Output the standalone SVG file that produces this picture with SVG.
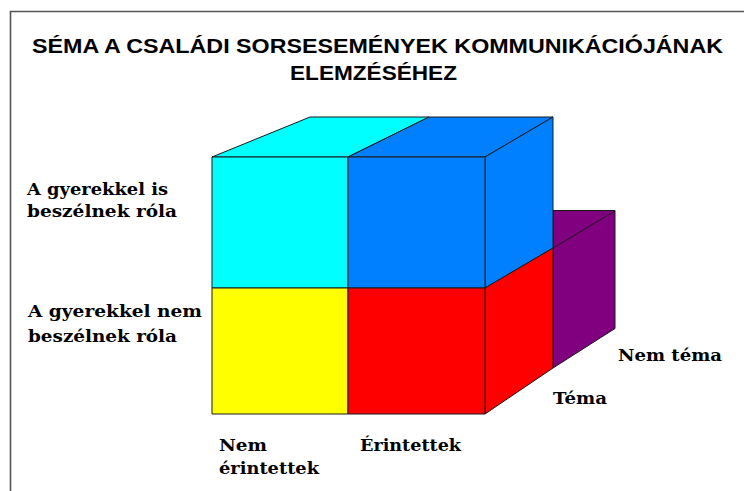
<svg xmlns="http://www.w3.org/2000/svg" width="744" height="491" viewBox="0 0 744 491">
<style>
.f{stroke:#1a1a1a;stroke-width:1;stroke-linejoin:round}
.t{font-family:"Liberation Sans",Arial,sans-serif;font-weight:bold;font-size:21px;fill:#000}
.l{font-family:"DejaVu Serif","Liberation Serif",serif;font-weight:bold;font-size:17px;fill:#000}
</style>
<rect width="744" height="491" fill="#fff"/>
<g id="frame" fill="none" stroke="#555" stroke-width="1.6">
<path d="M10.5,491 V11.5 H744"/>
</g>
<g id="title">
<text class="t" x="32" y="52.5" textLength="691" lengthAdjust="spacingAndGlyphs">SÉMA A CSALÁDI SORSESEMÉNYEK KOMMUNIKÁCIÓJÁNAK</text>
<text class="t" x="290" y="80" textLength="167" lengthAdjust="spacingAndGlyphs">ELEMZÉSÉHEZ</text>
</g>
<g id="purple-block">
<polygon class="f" fill="#800080" points="553,210.5 615,210.5 615,328.5 553,368"/>
<line class="f" x1="553" y1="248" x2="615" y2="211"/>
</g>
<g id="cyan-block">
<polygon class="f" fill="#00ffff" points="212,157 310,117 429,117 348,157"/>
<rect class="f" fill="#00ffff" x="212" y="157" width="136" height="131"/>
</g>
<g id="blue-block">
<polygon class="f" fill="#0080ff" points="348,157 429,117 553,117 485,157"/>
<polygon class="f" fill="#0080ff" points="485,157 553,117 553,248 485,288"/>
<rect class="f" fill="#0080ff" x="348" y="157" width="137" height="131"/>
</g>
<g id="yellow-block">
<rect class="f" fill="#ffff00" x="212" y="288" width="136" height="126"/>
</g>
<g id="red-block">
<polygon class="f" fill="#ff0000" points="485,288 553,248 553,368 485,414"/>
<rect class="f" fill="#ff0000" x="348" y="288" width="137" height="126"/>
</g>
<g id="connectors"></g>
<g id="label-row1">
<text class="l" x="27" y="195" textLength="141" lengthAdjust="spacingAndGlyphs">A gyerekkel is</text>
<text class="l" x="27" y="217" textLength="150" lengthAdjust="spacingAndGlyphs">beszélnek róla</text>
</g>
<g id="label-row2">
<text class="l" x="28" y="317" textLength="174" lengthAdjust="spacingAndGlyphs">A gyerekkel nem</text>
<text class="l" x="28" y="342" textLength="149" lengthAdjust="spacingAndGlyphs">beszélnek róla</text>
</g>
<g id="label-col1">
<text class="l" x="219" y="451" textLength="48" lengthAdjust="spacingAndGlyphs">Nem</text>
<text class="l" x="219" y="474" textLength="100" lengthAdjust="spacingAndGlyphs">érintettek</text>
</g>
<g id="label-col2">
<text class="l" x="360" y="451" textLength="101" lengthAdjust="spacingAndGlyphs">Érintettek</text>
</g>
<g id="label-tema">
<text class="l" x="553" y="404" textLength="54" lengthAdjust="spacingAndGlyphs">Téma</text>
</g>
<g id="label-nemtema">
<text class="l" x="618" y="361" textLength="104" lengthAdjust="spacingAndGlyphs">Nem téma</text>
</g>
</svg>
